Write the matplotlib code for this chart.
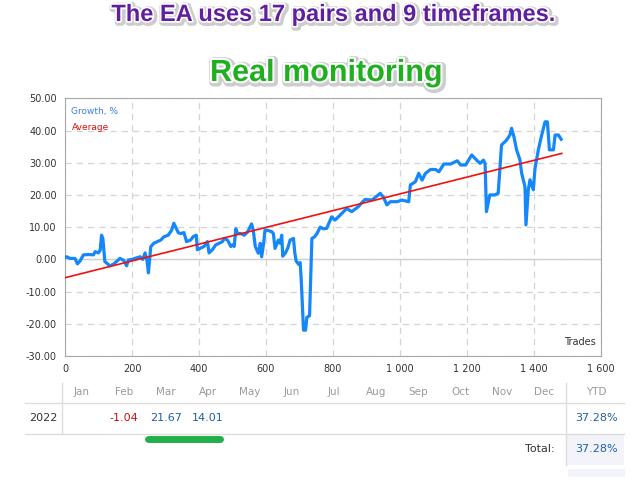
import numpy as np
import matplotlib
matplotlib.use('Agg')
import matplotlib.pyplot as plt
import matplotlib.patheffects as pe
from matplotlib.lines import Line2D
from matplotlib.patches import Rectangle
from matplotlib.ticker import FuncFormatter

# growth curve
trades = [0, 5, 15, 30, 37, 45, 55, 70, 85, 90, 100, 105, 109, 113, 119, 125, 134, 145,
          164, 175, 184, 189, 200, 215, 224, 232, 239, 245, 249, 256, 265, 286, 295, 308,
          318, 325, 338, 345, 355, 363, 375, 383, 392, 395, 405, 415, 425, 430, 440, 450,
          460, 470, 475, 485, 495, 500, 505, 510, 515, 525, 535, 545, 557, 562, 568, 577,
          583, 587, 593, 597, 605, 617, 622, 627, 637, 642, 647, 650, 658, 665, 672, 682,
          686, 690, 697, 702, 705, 712, 718, 722, 730, 737, 745, 752, 762, 771, 781, 796,
          806, 821, 841, 856, 876, 886, 896, 916, 926, 941, 951, 961, 971, 991, 1006, 1026,
          1031, 1046, 1056, 1066, 1076, 1091, 1106, 1116, 1131, 1151, 1171, 1181, 1196,
          1214, 1229, 1239, 1249, 1254, 1258, 1268, 1283, 1293, 1298, 1303, 1318, 1328,
          1333, 1340, 1348, 1358, 1363, 1373, 1376, 1383, 1388, 1398, 1403, 1413, 1423,
          1433, 1440, 1446, 1458, 1463, 1473, 1481]
growth = [0.5, 0.8, 0.3, 0.3, -1.4, -0.5, 1.4, 1.5, 1.4, 2.4, 2.0, 2.9, 7.5, 6.5, -0.7,
          -1.2, -2.0, -1.5, 0.3, -0.3, -2.0, -0.2, 0.0, 0.5, 0.8, 0.0, 2.0, -0.5, -4.2, 3.9,
          5.0, 6.0, 7.0, 7.5, 9.0, 11.2, 8.3, 8.0, 8.3, 5.5, 6.0, 7.1, 7.5, 3.0, 3.5, 4.0,
          5.5, 2.0, 3.0, 4.5, 5.0, 5.5, 6.5, 6.0, 4.0, 4.5, 4.0, 9.5, 8.0, 8.0, 7.5, 8.5,
          11.0, 9.0, 4.0, 1.9, 5.0, 0.8, 5.0, 9.1, 9.0, 8.6, 8.0, 3.4, 6.0, 5.0, 7.5, 1.0,
          2.0, 3.5, 6.0, 6.5, 2.0, -0.5, -1.5, -1.0, -6.0, -22.0, -22.0, -18.0, -17.5, 6.5,
          7.0, 8.0, 10.0, 9.5, 9.6, 13.2, 12.2, 13.7, 15.8, 14.8, 16.4, 17.6, 18.6, 18.4,
          19.2, 20.5, 19.2, 16.9, 17.9, 17.9, 18.4, 17.9, 23.1, 24.1, 26.7, 24.6, 26.7,
          27.9, 27.9, 27.2, 29.6, 29.6, 30.6, 29.3, 29.3, 32.4, 30.8, 29.8, 30.8, 29.8,
          14.8, 20.0, 20.0, 20.5, 27.7, 35.5, 37.0, 38.6, 40.7, 38.1, 34.0, 30.9, 26.8,
          22.6, 10.7, 21.6, 24.7, 21.6, 28.3, 34.0, 38.6, 42.7, 42.7, 34.0, 34.0, 38.6,
          38.6, 37.3]

avg_trades = [0, 1483]
avg_growth = [-5.7, 32.9]

months = ['Jan', 'Feb', 'Mar', 'Apr', 'May', 'Jun', 'Jul', 'Aug', 'Sep', 'Oct', 'Nov', 'Dec']
month_vals = ['', '-1.04', '21.67', '14.01', '', '', '', '', '', '', '', '']
year = '2022'
ytd = '37.28%'
total = '37.28%'

W, H = 640, 480


def fx(x):
    return x / W


def fy(y):
    return 1 - y / H


fig = plt.figure(figsize=(6.4, 4.8), dpi=100)
fig.patch.set_facecolor('white')

# titles (white outline + soft grey shadow)
glow = [pe.Stroke(linewidth=5, foreground='#b8b8b8', alpha=0.7, offset=(1, -1)),
        pe.Stroke(linewidth=2.5, foreground='white'), pe.Normal()]
fig.text(fx(334), fy(21), 'The EA uses 17 pairs and 9 timeframes.', ha='center', va='baseline',
         fontsize=17, fontweight='bold', color='#5f1f9e', family='Liberation Sans',
         path_effects=glow)
glow2 = [pe.Stroke(linewidth=6, foreground='#b8b8b8', alpha=0.7, offset=(1, -1)),
         pe.Stroke(linewidth=3, foreground='white'), pe.Normal()]
fig.text(fx(326), fy(81), 'Real monitoring', ha='center', va='baseline',
         fontsize=22, fontweight='bold', color='#1fb01f', family='Liberation Sans',
         path_effects=glow2)

# chart
ax = fig.add_axes([fx(65), fy(356), (601 - 65) / W, (356 - 98.3) / H])
ax.plot(trades, growth, color='#1487fa', lw=2.3, solid_joinstyle='round', zorder=3)
ax.plot(avg_trades, avg_growth, color='#f01010', lw=1.2, zorder=4)
ax.set_xlim(0, 1600)
ax.set_ylim(-30, 50)
ax.set_xticks(np.arange(0, 1601, 200))
ax.set_yticks(np.arange(-30, 51, 10))
ax.xaxis.set_major_formatter(FuncFormatter(lambda v, p: '{:,}'.format(int(v)).replace(',', ' ')))
ax.yaxis.set_major_formatter(FuncFormatter(lambda v, p: '%.2f' % v))
ax.tick_params(length=0, labelsize=7, colors='#333333', pad=6)
ax.grid(True, ls=(0, (5, 4)), color='#d4d4d4', lw=0.9)
ax.axhline(0, color='#cccccc', lw=1, zorder=1)
for s in ax.spines.values():
    s.set_color('#a8a8a8')
ax.text(0.012, 0.965, 'Growth, %', transform=ax.transAxes, fontsize=6.5, color='#3f7fe6', va='top')
ax.text(0.012, 0.905, 'Average', transform=ax.transAxes, fontsize=6.5, color='#e01010', va='top')
ax.text(0.99, 0.035, 'Trades', transform=ax.transAxes, fontsize=7, color='#333333',
        ha='right', va='bottom')

# table below
grey = '#dddddd'
fig.add_artist(Rectangle((fx(566), fy(465)), (624 - 566) / W, 31 / H, transform=fig.transFigure,
                         facecolor='#f2f4fa', edgecolor='none'))
fig.add_artist(Rectangle((fx(568), fy(477)), (625 - 568) / W, 8 / H, transform=fig.transFigure,
                         facecolor='#f2f4fa', edgecolor='none'))
fig.add_artist(Line2D([fx(25), fx(624)], [fy(403), fy(403)], color=grey, lw=1))
fig.add_artist(Line2D([fx(25), fx(624)], [fy(434), fy(434)], color=grey, lw=1))
fig.add_artist(Line2D([fx(62), fx(62)], [fy(383), fy(434)], color=grey, lw=1))
fig.add_artist(Line2D([fx(566), fx(566)], [fy(383), fy(465)], color=grey, lw=1))

for i, m in enumerate(months):
    xc = 82 + 42 * i
    fig.text(fx(xc), fy(392), m, ha='center', va='center', fontsize=7.5, color='#9a9a9a')
    if month_vals[i]:
        col = '#cc1010' if month_vals[i].startswith('-') else '#1f5fa6'
        fig.text(fx(xc), fy(418), month_vals[i], ha='center', va='center', fontsize=8, color=col)
fig.text(fx(596), fy(392), 'YTD', ha='center', va='center', fontsize=7.5, color='#9a9a9a')
fig.text(fx(43), fy(418), year, ha='center', va='center', fontsize=8, color='#333333')
fig.text(fx(596), fy(418), ytd, ha='center', va='center', fontsize=8, color='#1f5fa6')
fig.text(fx(555), fy(449), 'Total:', ha='right', va='center', fontsize=8, color='#333333')
fig.text(fx(596), fy(449), total, ha='center', va='center', fontsize=8, color='#1f5fa6')

# green highlight under Mar/Apr
fig.add_artist(Line2D([fx(148), fx(220)], [fy(439), fy(439)], color='#22b04a', lw=5,
                      solid_capstyle='round'))

fig.savefig('out.png', dpi=100)
